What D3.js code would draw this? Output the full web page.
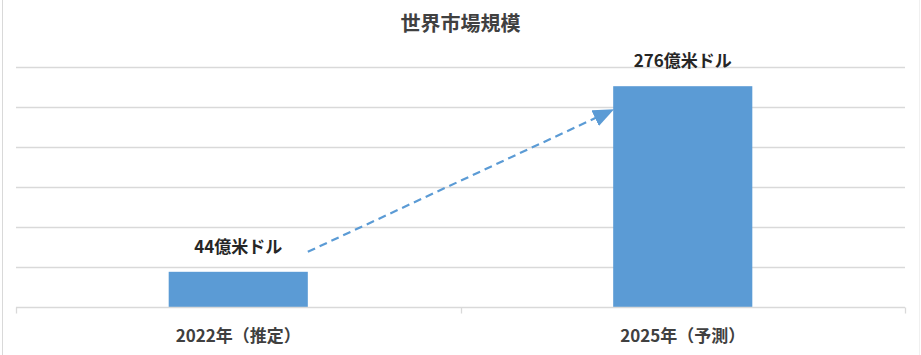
<!DOCTYPE html>
<html>
<head>
<meta charset="utf-8">
<script src="https://cdn.jsdelivr.net/npm/d3@7"></script>
<style>
  html, body { margin: 0; padding: 0; background: #fff; }
  svg { display: block; font-family: "Noto Sans CJK JP", "Noto Sans", sans-serif; }
</style>
</head>
<body>
<svg id="chart"></svg>
<script>
// Chart data
const categories = ['2022年（推定）', '2025年（予測）'];
const values = [44, 276];
const valueLabels = ['44億米ドル', '276億米ドル'];
const gridTicks = [0, 50, 100, 150, 200, 250, 300];
const chartTitle = '世界市場規模';
// growth arrow, from the first bar to the second (values on the y scale)
const arrowValues = [69, 246];

const width = 921;
const height = 355;
const margin = { top: 67, right: 16, bottom: 48, left: 16 };

const svg = d3.select('#chart')
    .attr('width', width)
    .attr('height', height);

// Outer frame lines
svg.append('line')
    .attr('x1', 2.5).attr('x2', 2.5)
    .attr('y1', 0).attr('y2', height)
    .attr('stroke', '#d9d9d9').attr('stroke-width', 1);
svg.append('line')
    .attr('x1', 919.5).attr('x2', 919.5)
    .attr('y1', 0).attr('y2', height)
    .attr('stroke', '#f0f0f0').attr('stroke-width', 1);

const x = d3.scaleBand()
    .domain(categories)
    .range([margin.left, width - margin.right])
    .paddingInner(0.687)
    .paddingOuter(0.3435);

const y = d3.scaleLinear()
    .domain([0, 300])
    .range([height - margin.bottom, margin.top]);

// Gridlines
svg.append('g')
    .selectAll('line')
    .data(gridTicks.filter(d => d > 0))
    .enter()
    .append('line')
    .attr('x1', margin.left)
    .attr('x2', width - margin.right)
    .attr('y1', d => Math.round(y(d)) + 0.5)
    .attr('y2', d => Math.round(y(d)) + 0.5)
    .attr('stroke', '#d9d9d9')
    .attr('stroke-width', 1.3);

// Bars
svg.append('g')
    .selectAll('rect')
    .data(values)
    .enter()
    .append('rect')
    .attr('x', (d, i) => x(categories[i]))
    .attr('width', x.bandwidth())
    .attr('y', d => y(d))
    .attr('height', d => y(0) - y(d))
    .attr('fill', '#5b9bd5');

// X axis baseline with tick marks at category boundaries
const baseY = Math.round(y(0)) + 0.5;
svg.append('line')
    .attr('x1', margin.left).attr('x2', width - margin.right)
    .attr('y1', baseY).attr('y2', baseY)
    .attr('stroke', '#d9d9d9').attr('stroke-width', 1.3);

const step = x.step();
const tickXs = [0, 1, 2].map(i => margin.left + x.paddingOuter() * step - x.paddingInner() * step / 2 + i * step);
svg.append('g')
    .selectAll('line')
    .data(tickXs)
    .enter()
    .append('line')
    .attr('x1', d => Math.round(d) + 0.5)
    .attr('x2', d => Math.round(d) + 0.5)
    .attr('y1', baseY)
    .attr('y2', baseY + 6)
    .attr('stroke', '#d9d9d9').attr('stroke-width', 1.3);

// Category labels
svg.append('g')
    .selectAll('text')
    .data(categories)
    .enter()
    .append('text')
    .attr('x', d => x(d) + x.bandwidth() / 2)
    .attr('y', baseY + 34)
    .attr('text-anchor', 'middle')
    .attr('font-size', 17)
    .attr('font-weight', 'bold')
    .attr('fill', '#404040')
    .text(d => d);

// Value labels
svg.append('g')
    .selectAll('text')
    .data(values)
    .enter()
    .append('text')
    .attr('x', (d, i) => x(categories[i]) + x.bandwidth() / 2)
    .attr('y', d => y(d) - 19)
    .attr('text-anchor', 'middle')
    .attr('font-size', 17)
    .attr('font-weight', 'bold')
    .attr('fill', '#262626')
    .text((d, i) => valueLabels[i]);

// Title
svg.append('text')
    .attr('x', width / 2)
    .attr('y', 31)
    .attr('text-anchor', 'middle')
    .attr('font-size', 20)
    .attr('font-weight', 'bold')
    .attr('fill', '#404040')
    .text(chartTitle);

// Dashed growth arrow
svg.append('defs').append('marker')
    .attr('id', 'arrowhead')
    .attr('viewBox', '0 0 10 10')
    .attr('refX', 9).attr('refY', 5)
    .attr('markerWidth', 9.5).attr('markerHeight', 8)
    .attr('markerUnits', 'strokeWidth')
    .attr('orient', 'auto')
    .attr('preserveAspectRatio', 'none')
    .append('path')
    .attr('d', 'M0,0 L10,5 L0,10 Z')
    .attr('fill', '#5b9bd5');

const x0 = x(categories[0]) + x.bandwidth();
const x1 = x(categories[1]) - 1;
svg.append('line')
    .attr('x1', x0)
    .attr('y1', y(arrowValues[0]))
    .attr('x2', x1)
    .attr('y2', y(arrowValues[1]))
    .attr('stroke', '#5b9bd5')
    .attr('stroke-width', 2.2)
    .attr('stroke-dasharray', '8,5')
    .attr('marker-end', 'url(#arrowhead)');
</script>
</body>
</html>
